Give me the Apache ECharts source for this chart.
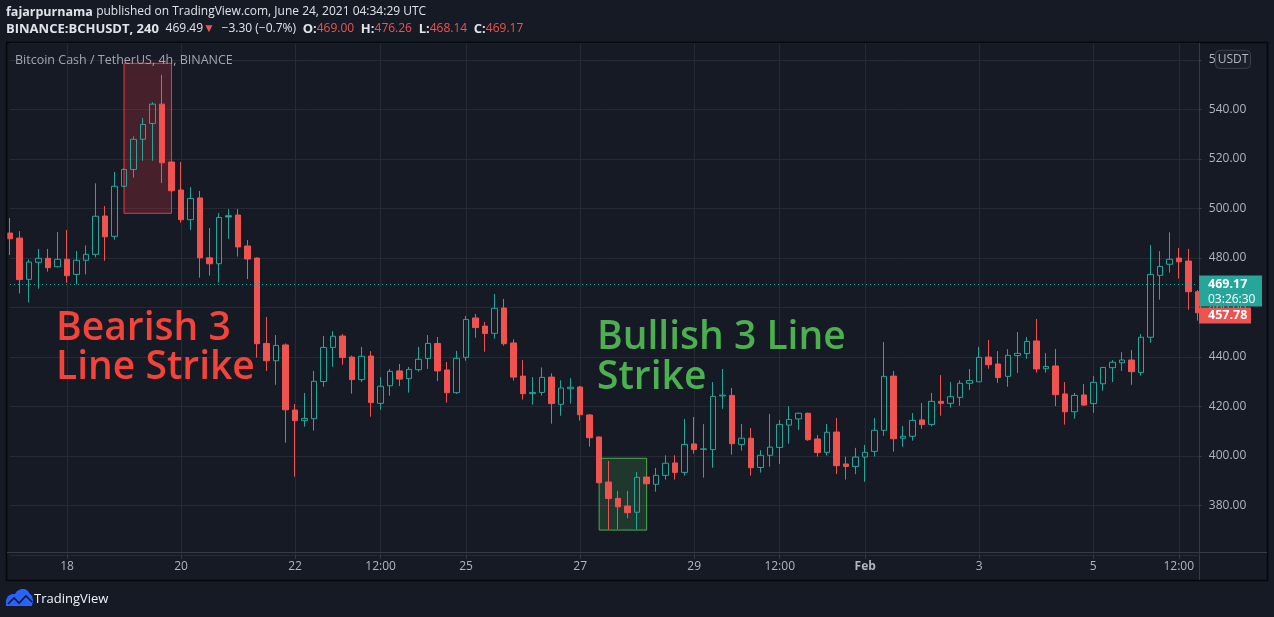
<!DOCTYPE html>
<html><head><meta charset="utf-8">
<script src="https://cdn.jsdelivr.net/npm/echarts@6/dist/echarts.min.js"></script>
<style>html,body{margin:0;padding:0;background:#161a25;overflow:hidden}#c{width:1274px;height:617px}</style>
</head><body><div id="c"></div>
<script>
// ---- data (4h candles, BINANCE:BCHUSDT, from 2021-01-17 00:00 UTC) ----
const opens = [490.0,488.0,471.3,478.2,479.8,476.4,479.4,473.3,479.0,481.4,496.9,488.7,508.9,515.7,527.9,534.3,542.1,518.7,507.4,495.4,504.2,480.0,477.6,497.0,497.3,484.8,
479.9,445.4,438.4,444.8,418.5,414.2,415.0,430.0,443.8,448.4,439.9,430.8,440.3,421.2,428.3,434.3,431.2,434.8,439.3,445.4,434.7,425.5,439.8,455.7,452.4,
449.5,459.7,445.6,432.2,425.1,425.6,431.8,420.8,427.1,427.8,416.5,407.6,389.4,382.8,379.7,377.2,391.4,388.5,392.1,397.1,393.3,404.8,402.6,402.5,424.2,
424.4,404.6,407.1,395.3,400.2,403.4,412.4,414.9,417.2,406.8,401.4,409.6,396.7,395.7,399.5,401.8,410.3,432.2,407.1,407.9,414.5,412.7,422.0,421.2,423.6,
429.3,429.9,439.9,437.1,432.1,440.5,441.3,446.4,435.2,436.3,425.0,417.8,424.6,421.1,429.1,435.6,437.6,438.7,433.6,447.9,472.9,477.4,479.9,478.7,466.3];
const closes = [487.7,471.2,478.3,479.8,476.0,479.4,472.8,479.0,481.4,496.8,488.5,508.9,515.7,527.9,533.9,542.1,518.4,507.1,495.4,504.0,480.0,477.6,496.3,496.5,484.4,479.5,
445.3,438.4,444.6,418.6,414.2,415.1,430.1,443.8,448.3,439.7,430.8,440.2,421.5,428.1,434.1,431.0,434.9,439.0,445.4,434.3,425.5,439.4,455.1,451.8,449.4,
459.6,445.3,431.8,425.1,425.6,431.7,421.1,427.4,427.7,416.6,407.3,389.1,382.7,379.4,377.0,391.3,388.7,392.1,397.0,393.3,404.6,402.5,402.8,424.0,424.5,
404.9,407.1,395.2,400.2,403.5,412.7,414.7,417.2,406.5,401.3,409.5,396.0,395.7,399.5,401.4,410.3,432.1,406.9,407.9,414.3,412.6,422.0,421.2,423.9,429.3,
430.4,439.8,436.8,431.6,440.6,441.4,446.2,435.1,436.1,424.7,417.8,424.4,420.5,429.7,435.7,437.8,438.7,434.0,447.9,473.3,476.5,479.4,478.4,466.3,457.78];
const lows = [481.1,465.6,462.0,467.5,474.4,476.1,469.9,469.3,473.3,480.2,478.8,487.3,508.5,512.4,519.2,519.2,510.2,506.8,494.2,491.2,472.0,472.8,470.0,487.7,480.5,471.4,
439.7,434.3,428.7,405.3,391.6,411.8,410.2,427.9,436.0,436.8,425.1,429.8,415.8,418.6,424.3,428.2,425.5,434.0,435.1,430.2,421.5,425.0,438.4,447.7,442.1,
447.3,444.5,430.4,422.7,420.7,424.3,413.0,416.2,421.1,414.2,403.7,389.0,370.2,370.4,374.8,370.3,388.5,385.5,390.4,390.4,392.0,400.9,391.2,395.2,419.0,
400.5,402.1,392.0,393.2,395.6,396.7,404.9,410.4,406.1,399.7,400.1,392.6,390.4,392.6,389.5,399.7,408.1,401.7,403.7,406.1,410.9,411.9,416.2,419.4,420.2,
426.6,429.9,435.2,429.5,427.9,433.5,439.2,433.6,433.6,420.1,412.6,415.0,420.2,417.4,426.3,429.8,434.3,428.7,432.4,445.7,463.1,474.0,471.6,459.0,454.6];
const highs = [496.1,490.8,479.4,483.6,483.6,490.4,491.2,482.7,485.0,510.1,500.9,514.7,516.2,529.1,536.5,542.9,553.9,519.0,518.7,508.6,507.0,492.0,498.1,499.7,499.7,487.2,
480.2,456.1,448.8,445.4,420.9,425.4,434.3,448.4,450.4,449.2,440.5,444.0,442.3,431.8,435.1,437.1,435.9,444.0,448.8,448.0,437.9,442.4,456.5,457.3,454.1,
465.4,463.4,447.1,438.7,431.8,435.7,433.3,430.5,431.4,428.2,416.9,407.8,397.9,385.8,385.8,393.5,391.6,395.1,400.2,400.2,414.9,415.7,412.8,429.8,435.1,
427.4,412.9,411.2,402.3,416.9,414.5,420.0,417.4,417.4,408.4,412.9,415.3,399.6,403.2,404.4,415.3,446.0,434.3,412.0,417.3,421.3,425.4,432.6,429.8,430.5,
435.1,444.0,446.8,442.3,443.1,450.0,448.0,455.3,441.5,443.2,429.8,425.4,429.0,432.2,435.9,438.7,441.9,442.7,449.2,485.2,482.7,490.3,484.0,483.6,467.0];

const startUtc = Date.UTC(2021, 0, 17, 0, 0);
const candleHours = 4;
const pad = n => String(n).padStart(2, '0');
const categories = opens.map((_, i) => {
  const d = new Date(startUtc + i * candleHours * 3600e3);
  return d.getUTCFullYear() + '-' + pad(d.getUTCMonth() + 1) + '-' + pad(d.getUTCDate()) + ' ' + pad(d.getUTCHours()) + ':00';
});

const xTickCats = ['2021-01-18 00:00','2021-01-20 00:00','2021-01-22 00:00','2021-01-23 12:00','2021-01-25 00:00','2021-01-27 00:00',
  '2021-01-29 00:00','2021-01-30 12:00','2021-02-01 00:00','2021-02-03 00:00','2021-02-05 00:00','2021-02-06 12:00'];
const xTickLabels = ['18','20','22','12:00','25','27','29','12:00','Feb','3','5','12:00'];
const yTicks = [380, 400, 420, 440, 460, 480, 500, 520, 540, 560];

const lastPrice = 469.17;
const lastClose = 457.78;
const countdown = '03:26:30';
const bearishBox = { from: 12, to: 17, top: 558.6, bottom: 498.0 };
const bullishBox = { from: 62, to: 67, top: 399.0, bottom: 370.0 };

// ---- styles ----
const GREEN = '#26a69a', RED = '#ef5350', GRID = '#262a35', AXIS = '#363a45', TXT = '#b2b5be', BG = '#161a25';
const FONT = '"Open Sans", "Noto Sans", sans-serif';

const tickSet = new Set(xTickCats);
const labelMap = {}; xTickCats.forEach((c, i) => labelMap[c] = xTickLabels[i]);

const candleData = opens.map((o, i) => {
  const c = closes[i];
  const prev = i > 0 ? closes[i - 1] : o;
  const col = c >= prev ? GREEN : RED;
  const hollow = c > o;
  return {
    value: [o, c, lows[i], highs[i]],
    itemStyle: { color: hollow ? 'transparent' : col, color0: hollow ? 'transparent' : col, borderColor: col, borderColor0: col, borderWidth: 1 }
  };
});

const chart = echarts.init(document.getElementById('c'), null, { renderer: 'canvas' });
const option = {
  animation: false,
  backgroundColor: BG,
  grid: { left: 10, right: 76.2, top: 43, bottom: 62.2, containLabel: false, outerBoundsMode: 'none' },
  xAxis: {
    type: 'category', data: categories, boundaryGap: false,
    axisLine: { show: false },
    axisTick: { show: true, length: 4, interval: (i, v) => tickSet.has(v), lineStyle: { color: AXIS } },
    axisLabel: {
      interval: (i, v) => tickSet.has(v), margin: 6, color: TXT, fontSize: 12, fontFamily: FONT,
      formatter: v => labelMap[v] === 'Feb' ? '{b|Feb}' : (labelMap[v] || ''),
      rich: { b: { fontWeight: 'bold', color: TXT, fontSize: 12, fontFamily: FONT } }
    },
    splitLine: { show: true, interval: (i, v) => tickSet.has(v), lineStyle: { color: GRID, width: 1 } }
  },
  yAxis: {
    type: 'value', position: 'right', min: 360, max: 566.8, interval: 20, scale: true,
    axisLine: { show: false },
    axisTick: { show: true, length: 4, lineStyle: { color: AXIS } },
    axisLabel: { color: TXT, fontSize: 12, fontFamily: FONT, margin: 11, showMinLabel: false, showMaxLabel: false,
      formatter: v => yTicks.includes(v) ? v.toFixed(2) : '' },
    splitLine: { show: true, lineStyle: { color: GRID, width: 1 } }
  },
  series: [
    {
      type: 'candlestick', data: candleData, barWidth: 6, clip: false, z: 3,
      markLine: {
        symbol: ['none', 'none'], silent: true, animation: false,
        label: { show: false },
        lineStyle: { color: GREEN, type: [1, 3], width: 1 },
        data: [{ yAxis: lastPrice }]
      }
    },
    {
      type: 'line', data: [], z: 5, silent: true,
      markArea: {
        silent: true,
        data: [
          [{ xAxis: categories[bearishBox.from], yAxis: bearishBox.top, itemStyle: { color: 'rgba(242,54,69,0.22)', borderColor: '#f23645', borderWidth: 1 } },
           { xAxis: categories[bearishBox.to], yAxis: bearishBox.bottom }],
          [{ xAxis: categories[bullishBox.from], yAxis: bullishBox.top, itemStyle: { color: 'rgba(76,175,80,0.2)', borderColor: '#4caf50', borderWidth: 1 } },
           { xAxis: categories[bullishBox.to], yAxis: bullishBox.bottom }]
        ]
      }
    }
  ]
};
chart.setOption(option);

const yLast = chart.convertToPixel({ yAxisIndex: 0 }, lastPrice);
const yClose = chart.convertToPixel({ yAxisIndex: 0 }, lastClose);
const y560 = chart.convertToPixel({ yAxisIndex: 0 }, 560);
const greenTop = yLast - 9;
const redTop = Math.max(yClose - 8, greenTop + 32);

const W = '#e1e3ea';
const graphic = [
  // header
  { type: 'text', x: 6, y: 12, z: 100, style: { text: '{b|fajarpurnama} {n|published on TradingView.com, June 24, 2021 04:34:29 UTC}', verticalAlign: 'middle',
    rich: { b: { fontWeight: 'bold', fill: W, fontSize: 12.5, fontFamily: FONT }, n: { fill: W, fontSize: 12, fontFamily: FONT } } } },
  { type: 'text', x: 6, y: 29, z: 100, style: { text: '{b|BINANCE:BCHUSDT, 240}  {n|469.49}{r|▼}  {n|−3.30 (−0.7%)}  {b|O:}{r|469.00}  {b|H:}{r|476.26}  {b|L:}{r|468.14}  {b|C:}{r|469.17}', verticalAlign: 'middle',
    rich: { b: { fontWeight: 'bold', fill: W, fontSize: 13, fontFamily: FONT }, n: { fill: W, fontSize: 12, fontFamily: FONT }, r: { fill: RED, fontSize: 12, fontFamily: FONT } } } },
  // pane frame & separators
  { type: 'rect', z: 90, shape: { x: 6.5, y: 42.5, width: 1261, height: 538 }, style: { fill: 'none', stroke: '#06070a', lineWidth: 1.5 } },
  { type: 'line', z: 90, shape: { x1: 7, y1: 552.5, x2: 1267, y2: 552.5 }, style: { stroke: AXIS, lineWidth: 1 } },
  { type: 'line', z: 90, shape: { x1: 1199.5, y1: 43, x2: 1199.5, y2: 580 }, style: { stroke: AXIS, lineWidth: 1 } },
  // pane title
  { type: 'text', x: 15, y: 60, z: 100, style: { text: 'Bitcoin Cash / TetherUS, 4h, BINANCE', fill: '#a3a6af', fontSize: 12.5, fontFamily: FONT, verticalAlign: 'middle' } },
  // annotations
  { type: 'text', z: 100, x: 56, y: 329, style: { text: 'Bearish 3', fill: '#f4433a', fontSize: 39, fontWeight: 600, fontFamily: FONT, verticalAlign: 'middle' } },
  { type: 'text', z: 100, x: 56, y: 368, style: { text: 'Line Strike', fill: '#f4433a', fontSize: 39, fontWeight: 600, fontFamily: FONT, verticalAlign: 'middle' } },
  { type: 'text', z: 100, x: 597, y: 338, style: { text: 'Bullish 3 Line', fill: '#4caf50', fontSize: 39, fontWeight: 600, fontFamily: FONT, verticalAlign: 'middle' } },
  { type: 'text', z: 100, x: 597, y: 378, style: { text: 'Strike', fill: '#4caf50', fontSize: 39, fontWeight: 600, fontFamily: FONT, verticalAlign: 'middle' } },
  // USDT badge
  { type: 'rect', z: 100, shape: { x: 1215.5, y: y560 - 9.5, width: 35, height: 18, r: 4 }, style: { fill: '#1b1f2a', stroke: '#3c404b', lineWidth: 1 } },
  { type: 'text', z: 101, x: 1233, y: y560, style: { text: 'USDT', fill: TXT, fontSize: 12, fontFamily: FONT, align: 'center', verticalAlign: 'middle' } },
  // price badges
  { type: 'rect', z: 100, shape: { x: 1199, y: greenTop, width: 63, height: 31 }, style: { fill: GREEN } },
  { type: 'text', z: 101, x: 1208, y: yLast, style: { text: lastPrice.toFixed(2), fill: '#ffffff', fontSize: 12.5, fontWeight: 'bold', fontFamily: FONT, verticalAlign: 'middle' } },
  { type: 'text', z: 101, x: 1208, y: yLast + 14.5, style: { text: countdown, fill: '#ffffff', fontSize: 12, fontFamily: FONT, verticalAlign: 'middle' } },
  { type: 'rect', z: 100, shape: { x: 1199, y: redTop, width: 52, height: 16 }, style: { fill: RED } },
  { type: 'text', z: 101, x: 1208, y: redTop + 8, style: { text: lastClose.toFixed(2), fill: '#ffffff', fontSize: 12.5, fontWeight: 'bold', fontFamily: FONT, verticalAlign: 'middle' } },
  // footer logo
  { type: 'polygon', z: 100, shape: { points: [[6,606],[6,600],[8,596],[12,594],[15,594],[17,591],[21,589],[25,589],[28,591],[30,594],[32,596],[33,600],[32,606]] }, style: { fill: '#2962ff' } },
  { type: 'polyline', z: 101, shape: { points: [[8, 604], [14, 598], [19, 603], [26, 596], [32, 602]] }, style: { stroke: '#161a25', lineWidth: 1.6, fill: 'none' } },
  { type: 'text', z: 100, x: 34, y: 599, style: { text: 'TradingView', fill: '#f0f3fa', fontSize: 13, fontFamily: FONT, verticalAlign: 'middle' } }
];
chart.setOption({ graphic: graphic });
</script></body></html>
